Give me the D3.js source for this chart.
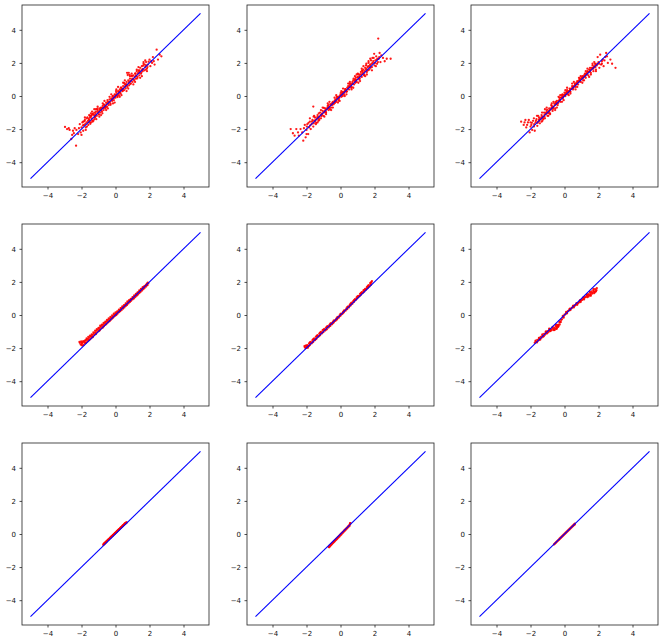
<!DOCTYPE html>
<html><head><meta charset="utf-8">
<script src="https://cdn.jsdelivr.net/npm/d3@7"></script>
<style>body{margin:0;background:#fff}svg{display:block}</style>
</head><body>
<script>
const tickValues = [-4, -2, 0, 2, 4];
const domain = [-5.5, 5.5];
const refLine = [[-5, -5], [5, 5]];

const panel1 = [[-2.97,-1.87],[-2.85,-2.0],[-2.7,-2.05],[-2.32,-3.0],[-2.6,-2.6],[-2.4,-1.95],[-2.2,-2.3],[-2.1,-1.7],[-2.0,-1.9],[-1.95,-1.6],[-1.9,-2.1],[-1.85,-1.75],[-1.8,-1.45],[-1.75,-1.9],[-1.7,-1.6],[-1.65,-1.3],[-1.6,-1.75],[-1.55,-1.45],[-1.5,-1.2],[-1.45,-1.6],[-1.4,-1.35],[-1.35,-1.1],[-1.3,-1.5],[-1.25,-1.0],[-1.2,-1.3],[-1.15,-0.95],[-1.1,-1.2],[-1.05,-0.85],[-1.0,-1.1],[-0.95,-0.75],[-0.9,-1.0],[-0.85,-0.7],[-0.8,-0.95],[-0.75,-0.6],[-0.7,-0.85],[-0.65,-0.55],[-0.6,-0.75],[-0.55,-0.4],[-0.5,-0.65],[-0.45,-0.35],[-0.4,-0.55],[-0.35,-0.2],[-0.3,-0.45],[-0.25,-0.15],[-0.2,-0.3],[-0.15,0.0],[-0.1,-0.25],[-0.05,0.1],[0.0,-0.1],[0.05,0.2],[0.1,0.0],[0.15,0.3],[0.2,0.05],[0.25,0.4],[0.3,0.15],[0.35,0.5],[0.4,0.3],[0.45,0.6],[0.5,0.35],[0.55,0.7],[0.6,0.45],[0.65,0.85],[0.7,0.55],[0.75,0.95],[0.8,0.65],[0.85,1.05],[0.9,0.75],[0.95,1.2],[1.0,0.85],[1.05,1.25],[1.1,0.95],[1.15,1.35],[1.2,1.05],[1.25,1.5],[1.3,1.15],[1.35,1.55],[1.4,1.25],[1.45,1.7],[1.5,1.35],[1.55,1.8],[1.6,1.5],[1.65,1.95],[1.7,1.55],[1.75,1.75],[1.8,2.05],[1.85,1.65],[1.9,1.9],[2.0,2.2],[2.05,1.8],[2.15,2.0],[2.2,2.35],[2.3,1.9],[2.42,2.8],[2.5,2.2],[2.6,2.5],[2.7,2.4],
[-1.62,-1.5],[-1.48,-1.68],[-1.33,-1.08],[-1.21,-1.26],[-1.08,-0.78],[-0.97,-1.12],[-0.88,-0.8],[-0.77,-1.05],[-0.69,-0.51],[-0.58,-0.68],[-0.47,-0.25],[-0.38,-0.36],[-0.29,-0.53],[-0.18,-0.03],[-0.08,-0.1],[0.03,0.3],[0.12,-0.06],[0.22,0.27],[0.31,0.51],[0.42,0.3],[0.51,0.79],[0.62,0.72],[0.68,1.4],[0.72,1.27],[0.78,1.4],[0.83,1.28],[0.88,0.74],[0.98,1.22],[1.07,1.01],[1.18,1.37],[1.28,1.06],[1.39,1.48],[1.52,1.42],[1.63,1.83],[1.78,1.6],[1.95,2.07],
[-1.45,-1.05],[-1.38,-0.95],[-1.25,-0.8],[-1.5,-1.3],[-1.7,-1.35],[-1.9,-1.55],[-2.15,-1.95],[-2.5,-2.1],[-2.75,-1.95],[-2.55,-2.35],[-2.05,-2.2],[-1.75,-2.05],
[-1.92,-1.78],[-1.83,-1.52],[-1.77,-1.68],[-1.68,-1.85],[-1.58,-1.38],[-1.52,-1.58],[-1.43,-1.22],[-1.37,-1.48],[-1.27,-1.15],[-1.17,-1.05],[-1.13,-1.4],[-1.03,-0.98],[-0.93,-0.85],[-0.83,-0.88],[-0.73,-0.72],[-0.63,-0.68],[-0.53,-0.5],[-0.43,-0.45],[-0.33,-0.35],[-0.23,-0.22],[-0.13,-0.12],[-0.03,-0.02],[0.07,0.1],[0.17,0.15],[0.27,0.2],[0.37,0.4],[0.47,0.45],[0.57,0.55],[0.67,0.65],[0.77,0.78],[0.87,0.9],[0.97,1.0],[1.12,1.15],[1.22,1.25],[1.32,1.38],[1.42,1.55],[1.57,1.6],[1.72,1.9],[1.88,1.75],[2.1,2.1],[-1.6,-1.6],[-1.4,-1.15],[-1.2,-1.15],[-1.0,-0.95],[-0.8,-0.75],[-0.6,-0.6],[-0.4,-0.4],[-0.2,-0.2],[0.0,0.05],[0.2,0.25],[0.4,0.42],[0.6,0.62],[0.8,0.85],[1.0,1.05],[1.2,1.2],[1.4,1.4],[1.6,1.62],[1.8,1.85],[-2.3,-2.05],[-2.45,-2.25],
[-1.55,-1.15],[-1.35,-1.55],[-1.15,-0.8],[-0.95,-1.25],[-0.75,-0.45],[-0.55,-0.85],[-0.35,-0.05],[-0.15,-0.45],[0.05,0.4],[0.25,-0.05],[0.45,0.8],[0.65,0.3],[0.85,1.2],[1.05,0.7],[1.25,1.6],[1.45,1.1],[1.65,2.05],[1.85,1.5],[-1.8,-1.3],[-2.0,-2.35],[-1.05,-0.65],[-0.85,-1.15],[-0.65,-0.3],[-0.45,-0.75],[-0.25,0.1],[-0.05,-0.4],[0.15,0.55],[0.35,0.05],[0.55,0.95],[0.75,0.45],[0.95,1.35],[1.15,0.85],[1.35,1.75],[1.55,1.2],[1.75,2.15],[2.25,2.1],[-1.25,-1.4],[-0.7,-0.7],[0.3,0.35],[0.9,0.9]];

const panel2 = [[-2.93,-2.0],[-2.8,-2.25],[-2.6,-2.0],[-2.45,-2.4],[-2.35,-2.0],[-2.19,-2.7],[-2.05,-2.5],[-2.25,-2.2],[-2.1,-1.75],[-2.0,-2.05],[-1.95,-1.7],[-1.9,-2.3],[-1.85,-1.9],[-1.8,-1.55],[-1.75,-2.0],[-1.7,-1.7],[-1.6,-0.64],[-1.65,-1.45],[-1.6,-1.85],[-1.55,-1.5],[-1.5,-1.3],[-1.45,-1.7],[-1.4,-1.4],[-1.35,-1.15],[-1.3,-1.5],[-1.25,-1.25],[-1.2,-1.0],[-1.15,-1.35],[-1.1,-1.1],[-1.05,-0.9],[-1.0,-1.2],[-0.95,-0.95],[-0.9,-0.75],[-0.85,-1.0],[-0.8,-0.8],[-0.75,-0.6],[-0.7,-0.85],[-0.65,-0.65],[-0.6,-0.5],[-0.55,-0.7],[-0.5,-0.5],[-0.45,-0.35],[-0.4,-0.5],[-0.35,-0.3],[-0.3,-0.2],[-0.25,-0.35],[-0.2,-0.15],[-0.15,-0.05],[-0.1,-0.2],[-0.05,0.0],[0.0,0.1],[0.05,-0.05],[0.1,0.15],[0.15,0.25],[0.2,0.1],[0.25,0.3],[0.3,0.4],[0.35,0.25],[0.4,0.5],[0.45,0.6],[0.5,0.4],[0.55,0.65],[0.6,0.75],[0.65,0.55],[0.7,0.85],[0.75,0.95],[0.8,0.7],[0.85,1.0],[0.9,1.1],[0.95,0.85],[1.0,1.15],[1.05,1.3],[1.1,1.0],[1.15,1.3],[1.2,1.45],[1.25,1.15],[1.3,1.5],[1.35,1.6],[1.4,1.3],[1.45,1.7],[1.5,1.85],[1.55,1.45],[1.6,1.75],[1.65,2.0],[1.7,1.6],[1.75,1.9],[1.8,2.15],[1.85,1.75],[1.9,2.0],[1.95,2.3],[2.0,1.85],[2.05,2.15],[2.1,2.4],[2.15,1.95],[2.22,3.47],[2.25,2.25],[2.35,2.05],[2.4,2.45],[2.5,2.3],[2.6,2.1],[2.72,2.25],[2.95,2.25],[2.3,2.6],[1.98,2.55],
[-1.58,-1.25],[-1.42,-1.62],[-1.28,-1.05],[-1.12,-1.22],[-0.98,-0.72],[-0.87,-0.95],[-0.72,-0.55],[-0.62,-0.8],[-0.48,-0.42],[-0.33,-0.42],[-0.22,-0.05],[-0.12,-0.28],[0.02,0.2],[0.13,0.0],[0.27,0.42],[0.38,0.28],[0.52,0.75],[0.63,0.5],[0.77,1.05],[0.88,0.8],[1.02,1.35],[1.13,1.05],[1.27,1.55],[1.38,1.25],[1.52,1.95],[1.62,1.55],[1.77,1.7],[1.88,2.3],[2.08,1.8],[2.18,2.25],
[-2.15,-1.95],[-1.98,-1.85],[-1.88,-1.62],[-1.78,-1.78],[-1.68,-1.55],[-1.57,-1.65],[-1.47,-1.45],[-1.37,-1.28],[-1.27,-1.38],[-1.17,-1.15],[-1.07,-1.05],[-0.97,-1.0],[-0.87,-0.82],[-0.77,-0.7],[-0.67,-0.72],[-0.57,-0.55],[-0.47,-0.45],[-0.37,-0.4],[-0.27,-0.25],[-0.17,-0.12],[-0.07,-0.1],[0.03,0.05],[0.13,0.2],[0.23,0.2],[0.33,0.35],[0.43,0.45],[0.53,0.55],[0.63,0.68],[0.73,0.75],[0.83,0.9],[0.93,0.98],[1.03,1.1],[1.13,1.2],[1.23,1.3],[1.33,1.4],[1.43,1.5],[1.53,1.65],[1.63,1.8],[1.73,1.85],[1.83,1.95],[1.93,2.1],[2.03,2.0],[2.13,2.2],[2.28,2.35],[-1.5,-1.55],[-1.3,-1.3],[-1.1,-1.15],[-0.9,-0.9],[-0.7,-0.7],[-0.5,-0.55],[-0.3,-0.3],[-0.1,-0.1],[0.1,0.1],[0.3,0.3],[0.5,0.55],[0.7,0.75],[0.9,0.95],[1.1,1.15],[1.3,1.35],[1.5,1.6],[1.7,1.75],[-2.5,-2.2],[-2.7,-2.4],
[-1.55,-1.2],[-1.35,-1.6],[-1.15,-0.85],[-0.95,-1.25],[-0.75,-0.45],[-0.55,-0.85],[-0.35,-0.1],[-0.15,-0.4],[0.05,0.3],[0.25,0.0],[0.45,0.75],[0.65,0.4],[0.85,1.2],[1.05,0.8],[1.25,1.65],[1.45,1.2],[1.65,2.1],[1.85,1.55],[-1.8,-1.35],[-2.0,-2.3],[-1.05,-0.7],[-0.85,-1.1],[-0.65,-0.35],[-0.45,-0.7],[-0.25,0.05],[-0.05,-0.3],[0.15,0.45],[0.35,0.1],[0.55,0.85],[0.75,0.5],[0.95,1.3],[1.15,0.9],[1.35,1.8],[1.55,1.3],[1.75,2.25],[2.2,2.05],[-1.25,-1.45],[-0.7,-0.72],[0.3,0.32],[0.9,0.92]];

const panel3 = [[-2.55,-1.55],[-2.4,-1.75],[-2.3,-1.45],[-2.25,-1.9],[-2.15,-1.6],[-2.05,-2.2],[-1.95,-1.75],[-1.9,-2.05],[-1.85,-1.5],[-1.8,-1.85],[-1.75,-2.1],[-1.7,-1.6],[-1.65,-1.4],[-1.6,-1.8],[-1.55,-1.55],[-1.5,-1.3],[-1.45,-1.65],[-1.4,-1.4],[-1.35,-1.15],[-1.3,-1.5],[-1.25,-1.25],[-1.2,-1.0],[-1.15,-1.35],[-1.1,-1.1],[-1.05,-0.9],[-1.0,-1.2],[-0.95,-0.95],[-0.9,-0.75],[-0.85,-1.05],[-0.8,-0.8],[-0.75,-0.6],[-0.7,-0.9],[-0.65,-0.65],[-0.6,-0.45],[-0.55,-0.75],[-0.5,-0.5],[-0.45,-0.3],[-0.4,-0.55],[-0.35,-0.3],[-0.3,-0.1],[-0.25,-0.35],[-0.2,-0.1],[-0.15,0.05],[-0.1,-0.15],[-0.05,0.05],[0.0,0.2],[0.05,0.0],[0.1,0.2],[0.15,0.35],[0.2,0.1],[0.25,0.3],[0.3,0.45],[0.35,0.25],[0.4,0.45],[0.45,0.6],[0.5,0.4],[0.55,0.6],[0.6,0.75],[0.65,0.55],[0.7,0.8],[0.75,0.9],[0.8,0.7],[0.85,0.95],[0.9,1.05],[0.95,0.85],[1.0,1.1],[1.05,1.2],[1.1,0.95],[1.15,1.25],[1.2,1.35],[1.25,1.1],[1.3,1.4],[1.35,1.5],[1.4,1.25],[1.45,1.6],[1.5,1.7],[1.55,1.4],[1.6,1.7],[1.65,1.85],[1.7,1.5],[1.75,1.8],[1.8,1.95],[1.85,1.6],[1.9,1.85],[2.0,2.05],[2.05,1.7],[2.1,2.5],[2.15,1.9],[2.25,2.2],[2.3,1.8],[2.4,2.35],[2.5,2.4],[2.55,2.0],[2.7,2.2],[2.8,1.95],[3.0,1.7],[2.45,2.6],[1.95,2.35],
[-1.62,-1.2],[-1.48,-1.5],[-1.32,-1.0],[-1.18,-1.25],[-1.02,-0.82],[-0.92,-1.0],[-0.78,-0.55],[-0.68,-0.78],[-0.52,-0.35],[-0.42,-0.45],[-0.28,-0.2],[-0.12,0.1],[0.03,0.1],[0.18,0.25],[0.32,0.3],[0.48,0.55],[0.62,0.65],[0.78,0.85],[0.92,0.9],[1.08,1.15],[1.22,1.2],[1.38,1.45],[1.52,1.55],[1.68,1.7],[1.82,1.75],
[-2.2,-1.75],[-2.0,-1.85],[-1.92,-1.62],[-1.78,-1.7],[-1.68,-1.5],[-1.58,-1.62],[-1.47,-1.4],[-1.37,-1.3],[-1.27,-1.35],[-1.17,-1.12],[-1.07,-1.0],[-0.97,-1.05],[-0.87,-0.85],[-0.77,-0.72],[-0.67,-0.7],[-0.57,-0.55],[-0.47,-0.42],[-0.37,-0.42],[-0.27,-0.22],[-0.17,-0.08],[-0.07,-0.05],[0.03,0.05],[0.13,0.25],[0.23,0.2],[0.33,0.4],[0.43,0.45],[0.53,0.5],[0.63,0.7],[0.73,0.75],[0.83,0.85],[0.93,1.0],[1.03,1.05],[1.13,1.15],[1.23,1.3],[1.33,1.35],[1.43,1.45],[1.53,1.6],[1.63,1.65],[1.73,1.75],[1.83,1.9],[1.93,1.95],[2.03,1.95],[2.2,2.1],[2.35,2.15],[-1.5,-1.45],[-1.3,-1.25],[-1.1,-1.05],[-0.9,-0.9],[-0.7,-0.7],[-0.5,-0.45],[-0.3,-0.28],[-0.1,-0.05],[0.1,0.12],[0.3,0.3],[0.5,0.5],[0.7,0.7],[0.9,0.9],[1.1,1.1],[1.3,1.3],[1.5,1.5],[1.7,1.65],[-2.35,-1.6],[-2.1,-1.45],
[-1.55,-1.2],[-1.35,-1.55],[-1.15,-0.8],[-0.95,-1.2],[-0.75,-0.45],[-0.55,-0.85],[-0.35,-0.05],[-0.15,-0.35],[0.05,0.35],[0.25,0.05],[0.45,0.75],[0.65,0.4],[0.85,1.1],[1.05,0.8],[1.25,1.5],[1.45,1.15],[1.65,1.95],[1.85,1.5],[-1.8,-1.35],[-2.0,-1.6],[-1.05,-0.7],[-0.85,-1.1],[-0.65,-0.35],[-0.45,-0.7],[-0.25,0.05],[-0.05,-0.25],[0.15,0.5],[0.35,0.15],[0.55,0.85],[0.75,0.55],[0.95,1.2],[1.15,0.95],[1.35,1.65],[1.55,1.3],[1.75,2.05],[2.2,1.95],[-1.25,-1.4],[-0.7,-0.7],[0.3,0.3],[0.9,0.95]];

const panel4 = [[-2.1,-1.68],[-2.05,-1.78],[-2.0,-1.82],[-1.97,-1.72],[-1.92,-1.65],[-1.88,-1.8],[-1.84,-1.62],[-1.8,-1.7],[-1.75,-1.52],[-1.72,-1.65],[-1.68,-1.48],[-1.64,-1.58],[-1.6,-1.42],[-1.56,-1.5],[-1.52,-1.35],[-1.48,-1.45],[-1.44,-1.28],[-1.4,-1.35],[-1.36,-1.2],[-1.32,-1.3],[-1.28,-1.12],[-1.24,-1.2],[-1.2,-1.05],[-1.16,-1.12],[-1.12,-0.95],[-1.08,-1.05],[-1.04,-0.88],[-1.0,-0.98],[-0.96,-0.8],[-0.92,-0.9],[-0.88,-0.72],[-0.84,-0.82],[-0.8,-0.65],[-0.76,-0.75],[-0.72,-0.58],[-0.68,-0.68],[-0.64,-0.5],[-0.6,-0.6],[-0.56,-0.42],[-0.52,-0.52],[-0.48,-0.36],[-0.44,-0.45],[-0.4,-0.28],[-0.36,-0.38],[-0.32,-0.22],[-0.28,-0.3],[-0.24,-0.14],[-0.2,-0.22],[-0.16,-0.08],[-0.12,-0.14],[-0.08,0.0],[-0.04,-0.06],[0.0,0.06],[0.04,0.0],[0.08,0.14],[0.12,0.08],[0.16,0.22],[0.2,0.16],[0.24,0.3],[0.28,0.24],[0.32,0.38],[0.36,0.3],[0.4,0.45],[0.44,0.38],[0.48,0.52],[0.52,0.46],[0.56,0.6],[0.6,0.54],[0.64,0.68],[0.68,0.62],[0.72,0.76],[0.76,0.7],[0.8,0.84],[0.84,0.78],[0.88,0.92],[0.92,0.86],[0.96,0.98],[1.0,0.94],[1.04,1.06],[1.08,1.0],[1.12,1.14],[1.16,1.08],[1.2,1.22],[1.24,1.16],[1.28,1.3],[1.32,1.24],[1.36,1.38],[1.4,1.32],[1.44,1.46],[1.48,1.4],[1.52,1.54],[1.56,1.48],[1.6,1.62],[1.64,1.56],[1.68,1.7],[1.72,1.64],[1.76,1.78],[1.8,1.72],[1.84,1.86],[1.88,1.8],[1.93,1.91],[1.9,1.95],
[-1.9,-1.58],[-1.7,-1.42],[-1.5,-1.25],[-1.3,-1.05],[-1.1,-0.85],[-0.9,-0.65],[-0.7,-0.48],[-0.5,-0.3],[-0.3,-0.12],[-0.1,0.08],[0.1,0.22],[0.3,0.42],[0.5,0.6],[0.7,0.82],[0.9,0.98],[1.1,1.18],[1.3,1.36],[1.5,1.58],[1.7,1.74],[1.85,1.9],[-2.12,-1.62],[-2.02,-1.6],
[-2.0,-1.65],[-1.8,-1.55],[-1.6,-1.32],[-1.4,-1.18],[-1.2,-0.95],[-1.0,-0.78],[-0.8,-0.58],[-0.6,-0.4],[-0.4,-0.2],[-0.2,-0.02],[0.0,0.15],[0.2,0.32],[0.4,0.52],[0.6,0.7],[0.8,0.9],[1.0,1.08],[1.2,1.28],[1.4,1.48],[1.6,1.68],[1.8,1.82],[-1.95,-1.85],[-1.75,-1.68],[-1.55,-1.52],[-1.35,-1.35],[-1.15,-1.15],[-0.95,-0.95],[-0.75,-0.76],[-0.55,-0.55],[-0.35,-0.36],[-0.15,-0.15],[0.05,0.02],[0.25,0.22],[0.45,0.42],[0.65,0.6],[0.85,0.82],[1.05,1.0],[1.25,1.2],[1.45,1.42],[1.65,1.62],[1.85,1.82]];

const panel5 = [[-2.1,-1.95],[-2.05,-1.85],[-2.0,-1.98],[-1.95,-1.82],[-1.9,-1.9],[-1.85,-1.72],[-1.8,-1.82],[-1.75,-1.62],[-1.7,-1.72],[-1.65,-1.52],[-1.6,-1.62],[-1.55,-1.42],[-1.5,-1.52],[-1.45,-1.32],[-1.4,-1.42],[-1.35,-1.22],[-1.3,-1.32],[-1.25,-1.12],[-1.2,-1.22],[-1.15,-1.02],[-1.1,-1.12],[-1.05,-0.92],[-1.0,-1.02],[-0.95,-0.84],[-0.9,-0.94],[-0.85,-0.76],[-0.8,-0.86],[-0.75,-0.68],[-0.7,-0.76],[-0.65,-0.6],[-0.6,-0.66],[-0.55,-0.5],[-0.5,-0.56],[-0.45,-0.42],[-0.4,-0.46],[-0.35,-0.32],[-0.3,-0.36],[-0.25,-0.22],[-0.2,-0.26],[-0.15,-0.12],[-0.1,-0.16],[-0.05,-0.02],[0.0,-0.04],[0.05,0.08],[0.1,0.06],[0.15,0.18],[0.2,0.16],[0.25,0.28],[0.3,0.26],[0.35,0.4],[0.4,0.36],[0.45,0.52],[0.5,0.46],[0.55,0.62],[0.6,0.58],[0.65,0.74],[0.7,0.68],[0.75,0.84],[0.8,0.8],[0.85,0.96],[0.9,0.9],[0.95,1.06],[1.0,1.02],[1.05,1.16],[1.1,1.12],[1.15,1.28],[1.2,1.22],[1.25,1.38],[1.3,1.32],[1.35,1.48],[1.4,1.42],[1.45,1.58],[1.5,1.52],[1.55,1.68],[1.6,1.62],[1.65,1.8],[1.7,1.72],[1.75,1.92],[1.8,1.84],[1.85,2.05],[1.82,1.98],
[-1.98,-1.88],[-1.78,-1.68],[-1.58,-1.48],[-1.38,-1.28],[-1.18,-1.08],[-0.98,-0.9],[-0.78,-0.72],[-0.58,-0.58],[-0.38,-0.4],[-0.18,-0.2],[0.02,0.02],[0.22,0.24],[0.42,0.46],[0.62,0.68],[0.82,0.88],[1.02,1.1],[1.22,1.3],[1.42,1.5],[1.62,1.72],[-2.12,-1.88],[-1.92,-1.98],
[-2.0,-1.86],[-1.8,-1.66],[-1.6,-1.46],[-1.4,-1.26],[-1.2,-1.06],[-1.0,-0.88],[-0.8,-0.7],[-0.6,-0.52],[-0.4,-0.34],[-0.2,-0.14],[0.0,0.06],[0.2,0.26],[0.4,0.48],[0.6,0.68],[0.8,0.9],[1.0,1.12],[1.2,1.32],[1.4,1.52],[1.6,1.74],[1.78,1.95],[-2.05,-2.0],[-1.85,-1.86],[-1.65,-1.66],[-1.45,-1.46],[-1.25,-1.26],[-1.05,-1.06],[-0.85,-0.88],[-0.65,-0.68],[-0.45,-0.5],[-0.25,-0.3],[-0.05,-0.08],[0.15,0.12],[0.35,0.34],[0.55,0.56],[0.75,0.78],[0.95,0.98],[1.15,1.18],[1.35,1.4],[1.55,1.6],[1.75,1.8]];

const panel6 = [[-1.75,-1.68],[-1.7,-1.6],[-1.65,-1.62],[-1.6,-1.5],[-1.55,-1.55],[-1.5,-1.42],[-1.45,-1.46],[-1.4,-1.32],[-1.35,-1.38],[-1.3,-1.24],[-1.25,-1.3],[-1.2,-1.14],[-1.15,-1.2],[-1.1,-1.06],[-1.05,-1.12],[-1.0,-0.98],[-0.95,-1.04],[-0.9,-0.92],[-0.85,-0.98],[-0.8,-0.86],[-0.75,-0.92],[-0.7,-0.8],[-0.65,-0.86],[-0.6,-0.76],[-0.55,-0.82],[-0.5,-0.7],[-0.45,-0.74],[-0.4,-0.6],[-0.35,-0.6],[-0.3,-0.46],[-0.25,-0.44],[-0.2,-0.3],[-0.15,-0.26],[-0.1,-0.14],[-0.05,-0.1],[0.0,0.02],[0.05,0.04],[0.1,0.14],[0.15,0.16],[0.2,0.24],[0.25,0.26],[0.3,0.32],[0.35,0.36],[0.4,0.4],[0.45,0.44],[0.5,0.48],[0.55,0.52],[0.6,0.56],[0.65,0.6],[0.7,0.64],[0.75,0.68],[0.8,0.72],[0.85,0.76],[0.9,0.82],[0.95,0.84],[1.0,0.9],[1.05,0.92],[1.1,0.98],[1.15,1.0],[1.2,1.08],[1.25,1.08],[1.3,1.18],[1.35,1.14],[1.4,1.26],[1.45,1.2],[1.5,1.34],[1.55,1.26],[1.6,1.42],[1.65,1.3],[1.7,1.5],[1.75,1.38],[1.8,1.56],[1.85,1.44],[1.9,1.62],[1.88,1.5],
[-0.58,-0.9],[-0.48,-0.84],[-0.38,-0.72],[-0.28,-0.58],[-0.42,-0.66],[-0.52,-0.62],[-1.48,-1.5],[-1.28,-1.3],[-1.08,-1.0],[-0.88,-0.86],[0.12,0.1],[0.32,0.38],[0.52,0.56],[0.72,0.72],[0.92,0.88],[1.12,1.06],[1.32,1.24],[1.52,1.2],[1.62,1.34],[1.72,1.44],[1.42,1.12],
[-1.7,-1.55],[-1.5,-1.38],[-1.3,-1.18],[-1.1,-1.0],[-0.9,-0.82],[-0.7,-0.72],[-0.5,-0.58],[-0.3,-0.38],[-0.1,-0.06],[0.1,0.18],[0.3,0.36],[0.5,0.54],[0.7,0.7],[0.9,0.86],[1.1,1.04],[1.3,1.22],[1.5,1.4],[1.7,1.58],[-1.62,-1.66],[-1.42,-1.48],[-1.22,-1.28],[-1.02,-1.1],[-0.82,-0.96],[-0.62,-0.92],[-0.45,-0.82],[-0.35,-0.68],[-0.22,-0.42],[-0.05,-0.16],[0.15,0.1],[0.35,0.3],[0.55,0.46],[0.75,0.62],[0.95,0.78],[1.15,0.94],[1.35,1.08],[1.55,1.16],[1.75,1.32],[1.82,1.4]];

const panel7 = [[-0.72,-0.66],[-0.7,-0.6],[-0.68,-0.62],[-0.66,-0.56],[-0.64,-0.6],[-0.62,-0.54],[-0.6,-0.52],[-0.58,-0.5],[-0.56,-0.46],[-0.54,-0.5],[-0.52,-0.44],[-0.5,-0.42],[-0.48,-0.4],[-0.46,-0.38],[-0.44,-0.36],[-0.42,-0.34],[-0.4,-0.32],[-0.38,-0.3],[-0.36,-0.29],[-0.34,-0.26],[-0.32,-0.24],[-0.3,-0.22],[-0.28,-0.21],[-0.26,-0.18],[-0.24,-0.16],[-0.22,-0.14],[-0.2,-0.13],[-0.18,-0.1],[-0.16,-0.09],[-0.14,-0.06],[-0.12,-0.05],[-0.1,-0.02],[-0.08,-0.01],[-0.06,0.02],[-0.04,0.03],[-0.02,0.06],[0.0,0.06],[0.02,0.1],[0.04,0.1],[0.06,0.14],[0.08,0.14],[0.1,0.18],[0.12,0.18],[0.14,0.22],[0.16,0.22],[0.18,0.26],[0.2,0.26],[0.22,0.3],[0.24,0.3],[0.26,0.34],[0.28,0.34],[0.3,0.38],[0.32,0.38],[0.34,0.42],[0.36,0.42],[0.38,0.46],[0.4,0.46],[0.42,0.5],[0.44,0.5],[0.46,0.54],[0.48,0.54],[0.5,0.58],[0.52,0.58],[0.54,0.62],[0.56,0.62],[0.58,0.66],[0.6,0.64],[0.62,0.68],[0.64,0.68],[0.66,0.7]];

const panel8 = [[-0.7,-0.78],[-0.67,-0.8],[-0.64,-0.71],[-0.61,-0.74],[-0.58,-0.65],[-0.55,-0.67],[-0.52,-0.58],[-0.49,-0.61],[-0.46,-0.52],[-0.43,-0.54],[-0.4,-0.45],[-0.37,-0.48],[-0.34,-0.39],[-0.31,-0.41],[-0.28,-0.32],[-0.25,-0.35],[-0.22,-0.26],[-0.19,-0.29],[-0.16,-0.19],[-0.13,-0.22],[-0.1,-0.13],[-0.07,-0.16],[-0.04,-0.06],[-0.01,-0.09],[0.02,0.0],[0.05,-0.03],[0.08,0.07],[0.11,0.04],[0.14,0.13],[0.17,0.1],[0.2,0.2],[0.23,0.17],[0.26,0.26],[0.29,0.23],[0.32,0.33],[0.35,0.3],[0.38,0.39],[0.41,0.36],[0.44,0.46],[0.47,0.43],[0.5,0.52],[0.53,0.49],[0.56,0.58],[0.57,0.65],[0.55,0.6],[0.58,0.66]];

const panel9 = [[-0.62,-0.64],[-0.59,-0.6],[-0.56,-0.58],[-0.53,-0.54],[-0.5,-0.52],[-0.47,-0.47],[-0.44,-0.46],[-0.41,-0.41],[-0.38,-0.4],[-0.35,-0.35],[-0.32,-0.34],[-0.29,-0.28],[-0.26,-0.28],[-0.23,-0.22],[-0.2,-0.22],[-0.17,-0.16],[-0.14,-0.16],[-0.11,-0.1],[-0.08,-0.1],[-0.05,-0.04],[-0.02,-0.04],[0.01,0.02],[0.04,0.02],[0.07,0.08],[0.1,0.08],[0.13,0.14],[0.16,0.14],[0.19,0.2],[0.22,0.2],[0.25,0.26],[0.28,0.26],[0.31,0.32],[0.34,0.32],[0.37,0.38],[0.4,0.38],[0.43,0.44],[0.46,0.44],[0.49,0.5],[0.52,0.5],[0.55,0.56],[0.58,0.56],[0.61,0.62],[0.6,0.58]];

const panels = [panel1, panel2, panel3, panel4, panel5, panel6, panel7, panel8, panel9];

const W = 665, H = 644;
const colLeft = [22, 247, 471], rowTop = [5, 224, 443];
const pw = 187, ph = 182;

const svg = d3.select("body").append("svg").attr("width", W).attr("height", H);
const fmt = d => (d < 0 ? "\u2212" + Math.abs(d) : String(d));

panels.forEach((pts, i) => {
  const r = Math.floor(i / 3), c = i % 3;
  const x0 = colLeft[c], y0 = rowTop[r];
  const x = d3.scaleLinear().domain(domain).range([x0, x0 + pw]);
  const y = d3.scaleLinear().domain(domain).range([y0 + ph, y0]);
  const g = svg.append("g");

  g.append("g").selectAll("circle").data(pts).join("circle")
    .attr("cx", d => x(d[0])).attr("cy", d => y(d[1])).attr("r", 1.15)
    .attr("fill", "#ff0000").attr("fill-opacity", 0.9);

  g.append("path").datum(refLine)
    .attr("d", d3.line().x(d => x(d[0])).y(d => y(d[1])))
    .attr("stroke", "#0000ff").attr("stroke-width", 1.1).attr("fill", "none");

  const ax = g.append("g").attr("transform", `translate(0,${y0 + ph})`)
    .call(d3.axisBottom(x).tickValues(tickValues).tickFormat(fmt).tickSize(2.5).tickPadding(3.5));
  const ay = g.append("g").attr("transform", `translate(${x0},0)`)
    .call(d3.axisLeft(y).tickValues(tickValues).tickFormat(fmt).tickSize(2.5).tickPadding(3.5));
  [ax, ay].forEach(a => {
    a.select(".domain").remove();
    a.selectAll("line").attr("stroke", "#222").attr("stroke-width", 0.8);
    a.selectAll("text").attr("font-family", "DejaVu Sans").attr("font-size", 7).attr("fill", "#111");
  });

  g.append("rect").attr("x", x0).attr("y", y0).attr("width", pw).attr("height", ph)
    .attr("fill", "none").attr("stroke", "#222").attr("stroke-width", 0.8);
});
</script>
</body></html>
